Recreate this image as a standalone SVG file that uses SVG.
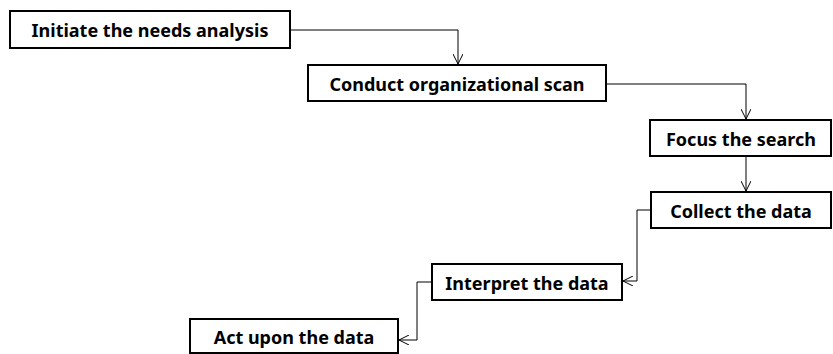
<svg xmlns="http://www.w3.org/2000/svg" width="833" height="354" viewBox="0 0 833 354">
<defs>
<style>
.box{fill:#fff;stroke:#000;stroke-width:2}
.lbl{font-family:"Noto Sans","DejaVu Sans",sans-serif;font-size:18px;font-weight:bold;text-anchor:middle;dominant-baseline:central;fill:#000}
.con{fill:none;stroke:#000;stroke-width:1}
</style>
<marker id="arr" viewBox="0 0 10 10" refX="10" refY="5" markerWidth="10" markerHeight="10" markerUnits="userSpaceOnUse" orient="auto">
<path d="M0,0 L10,5 L0,10" fill="none" stroke="#000" stroke-width="1"/>
</marker>
</defs>
<rect width="833" height="354" fill="#fff"/>
<g id="connectors">
<path class="con" d="M290,30 H458 V64" marker-end="url(#arr)"/>
<path class="con" d="M606,84 H746 V119" marker-end="url(#arr)"/>
<path class="con" d="M746,156 V191" marker-end="url(#arr)"/>
<path class="con" d="M651,210 H637 V281 H623" marker-end="url(#arr)"/>
<path class="con" d="M432,282 H417 V340 H399" marker-end="url(#arr)"/>
</g>
<g id="n1"><rect class="box" x="10" y="11" width="280" height="37"/><text class="lbl" x="150" y="30">Initiate the needs analysis</text></g>
<g id="n2"><rect class="box" x="308" y="65" width="298" height="36"/><text class="lbl" x="457" y="84">Conduct organizational scan</text></g>
<g id="n3"><rect class="box" x="650" y="120" width="181" height="36"/><text class="lbl" x="741" y="139">Focus the search</text></g>
<g id="n4"><rect class="box" x="651" y="192" width="180" height="36"/><text class="lbl" x="741" y="211">Collect the data</text></g>
<g id="n5"><rect class="box" x="432" y="264" width="190" height="36"/><text class="lbl" x="527" y="283">Interpret the data</text></g>
<g id="n6"><rect class="box" x="190" y="319" width="208" height="34"/><text class="lbl" x="294" y="337">Act upon the data</text></g>
</svg>
